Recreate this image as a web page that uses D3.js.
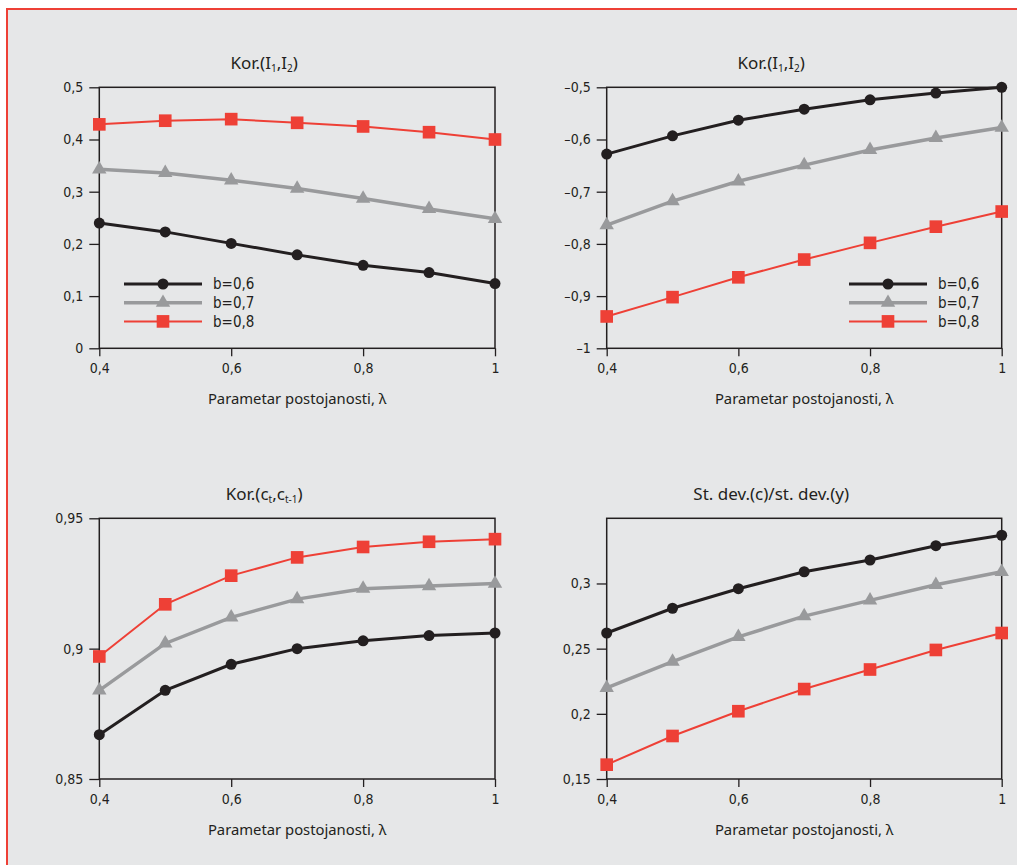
<!DOCTYPE html>
<html>
<head>
<meta charset="utf-8">
<script src="https://cdn.jsdelivr.net/npm/d3@7"></script>
<style>
  body { margin: 0; background: #fff; }
  .tick text { font-family: "Liberation Sans Narrow", "DejaVu Sans Condensed", sans-serif; font-size: 14px; fill: #231f20; }
  .title { font-family: "Noto Sans", sans-serif; font-size: 17px; fill: #231f20; }
  .xlabel { font-family: "Noto Sans", sans-serif; font-size: 14.8px; fill: #231f20; }
  .legend text { font-family: "Liberation Sans Narrow", "DejaVu Sans Condensed", sans-serif; font-size: 15px; fill: #231f20; }
</style>
</head>
<body>
<svg id="chart" width="1017" height="865"></svg>
<script>
// data
const lambda = [0.4, 0.5, 0.6, 0.7, 0.8, 0.9, 1];
const bLabels = ["b=0,6", "b=0,7", "b=0,8"];

const korI_top_b06 = [0.240, 0.223, 0.201, 0.179, 0.159, 0.145, 0.124];
const korI_top_b07 = [0.343, 0.336, 0.322, 0.306, 0.287, 0.267, 0.248];
const korI_top_b08 = [0.429, 0.436, 0.439, 0.432, 0.425, 0.414, 0.400];

const korI_neg_b06 = [-0.628, -0.593, -0.563, -0.542, -0.524, -0.511, -0.500];
const korI_neg_b07 = [-0.764, -0.718, -0.680, -0.649, -0.620, -0.597, -0.577];
const korI_neg_b08 = [-0.939, -0.902, -0.864, -0.830, -0.798, -0.767, -0.738];

const korC_b06 = [0.867, 0.884, 0.894, 0.900, 0.903, 0.905, 0.906];
const korC_b07 = [0.884, 0.902, 0.912, 0.919, 0.923, 0.924, 0.925];
const korC_b08 = [0.897, 0.917, 0.928, 0.935, 0.939, 0.941, 0.942];

const sdev_b06 = [0.262, 0.281, 0.296, 0.309, 0.318, 0.329, 0.337];
const sdev_b07 = [0.220, 0.240, 0.259, 0.275, 0.287, 0.299, 0.309];
const sdev_b08 = [0.161, 0.183, 0.202, 0.219, 0.234, 0.249, 0.262];

const xTicks = [0.4, 0.6, 0.8, 1];
const yTicks1 = [0, 0.1, 0.2, 0.3, 0.4, 0.5];
const yTicks2 = [-1, -0.9, -0.8, -0.7, -0.6, -0.5];
const yTicks3 = [0.85, 0.9, 0.95];
const yTicks4 = [0.15, 0.2, 0.25, 0.3];

const colors = ["#231f20", "#999a9c", "#ee4036"];
const widths = [3, 3.5, 2];
const symbols = [d3.symbolCircle, d3.symbolTriangle, d3.symbolSquare];
const symSizes = [95, 90, 160];

const locale = d3.formatLocale({decimal: ",", thousands: ".", grouping: [3], currency: ["", ""], minus: "\u2013"});
const fmt = locale.format(".2~f");

const panels = [
  {title: [["Kor.(I"], ["1", true], [",I"], ["2", true], [")"]], x0: 99.3, x1: 495, y0: 87.3, y1: 348.3,
   domain: [0, 0.5], ticks: yTicks1, series: [korI_top_b06, korI_top_b07, korI_top_b08], legend: {x: 124, y: 284}},
  {title: [["Kor.(I"], ["1", true], [",I"], ["2", true], [")"]], x0: 606.7, x1: 1001.7, y0: 87.3, y1: 348.3,
   domain: [-1, -0.5], ticks: yTicks2, series: [korI_neg_b06, korI_neg_b07, korI_neg_b08], legend: {x: 849, y: 284}},
  {title: [["Kor.(c"], ["t", true], [",c"], ["t-1", true], [")"]], x0: 99.3, x1: 495, y0: 518.3, y1: 779,
   domain: [0.85, 0.95], ticks: yTicks3, series: [korC_b06, korC_b07, korC_b08]},
  {title: [["St. dev.(c)/st. dev.(y)"]], x0: 606.7, x1: 1001.7, y0: 518.3, y1: 779,
   domain: [0.15, 0.35], ticks: yTicks4, series: [sdev_b06, sdev_b07, sdev_b08]}
];

const svg = d3.select("#chart");

svg.append("rect")
  .attr("x", 7).attr("y", 9)
  .attr("width", 1030).attr("height", 880)
  .attr("fill", "#e6e7e8")
  .attr("stroke", "#ee4036")
  .attr("stroke-width", 2);

panels.forEach((p) => {
  const x = d3.scaleLinear().domain([0.4, 1]).range([p.x0, p.x1]);
  const y = d3.scaleLinear().domain(p.domain).range([p.y1, p.y0]);
  const g = svg.append("g");

  g.append("rect")
    .attr("x", p.x0).attr("y", p.y0)
    .attr("width", p.x1 - p.x0).attr("height", p.y1 - p.y0)
    .attr("fill", "none")
    .attr("stroke", "#231f20")
    .attr("stroke-width", 1.5);

  const xAxis = (gg) => gg.attr("transform", `translate(0,${p.y1})`)
    .call(d3.axisBottom(x).tickValues(xTicks).tickFormat(fmt).tickSizeInner(8).tickSizeOuter(0).tickPadding(7))
    .call((a) => a.select(".domain").remove())
    .call((a) => a.selectAll(".tick line").attr("stroke", "#231f20").attr("stroke-width", 1.3));

  const yAxis = (gg) => gg.attr("transform", `translate(${p.x0},0)`)
    .call(d3.axisLeft(y).tickValues(p.ticks).tickFormat(fmt).tickSizeInner(10).tickSizeOuter(0).tickPadding(6))
    .call((a) => a.select(".domain").remove())
    .call((a) => a.selectAll(".tick line").attr("stroke", "#231f20").attr("stroke-width", 1.3));

  g.append("g").call(xAxis);
  g.append("g").call(yAxis);

  // title with subscripts
  const t = g.append("text")
    .attr("class", "title")
    .attr("x", (p.x0 + p.x1) / 2 - 33)
    .attr("y", p.y0 - 18)
    .attr("text-anchor", "middle");
  p.title.forEach(([s, sub]) => {
    t.append("tspan")
      .attr("font-size", sub ? "10px" : null)
      .attr("baseline-shift", sub ? "-3" : null)
      .text(s);
  });

  g.append("text")
    .attr("class", "xlabel")
    .attr("x", (p.x0 + p.x1) / 2)
    .attr("y", p.y1 + 56)
    .attr("text-anchor", "middle")
    .text("Parametar postojanosti, \u03bb");

  const line = d3.line().x((d, i) => x(lambda[i])).y((d) => y(d));

  p.series.forEach((s, k) => {
    g.append("path")
      .datum(s)
      .attr("fill", "none")
      .attr("stroke", colors[k])
      .attr("stroke-width", widths[k])
      .attr("d", line);
    g.selectAll(null)
      .data(s)
      .join("path")
      .attr("transform", (d, i) => `translate(${x(lambda[i])},${y(d)})`)
      .attr("d", d3.symbol().type(symbols[k]).size(symSizes[k]))
      .attr("fill", colors[k]);
  });

  if (p.legend) {
    const lg = g.append("g").attr("class", "legend")
      .attr("transform", `translate(${p.legend.x},${p.legend.y})`);
    bLabels.forEach((lab, k) => {
      const row = lg.append("g").attr("transform", `translate(0,${k * 18.7})`);
      row.append("line")
        .attr("x1", 0).attr("x2", 78)
        .attr("stroke", colors[k])
        .attr("stroke-width", widths[k]);
      row.append("path")
        .attr("transform", "translate(39,0)")
        .attr("d", d3.symbol().type(symbols[k]).size(symSizes[k]))
        .attr("fill", colors[k]);
      row.append("text")
        .attr("x", 89).attr("dy", "0.35em")
        .text(lab);
    });
  }
});
</script>
</body>
</html>
